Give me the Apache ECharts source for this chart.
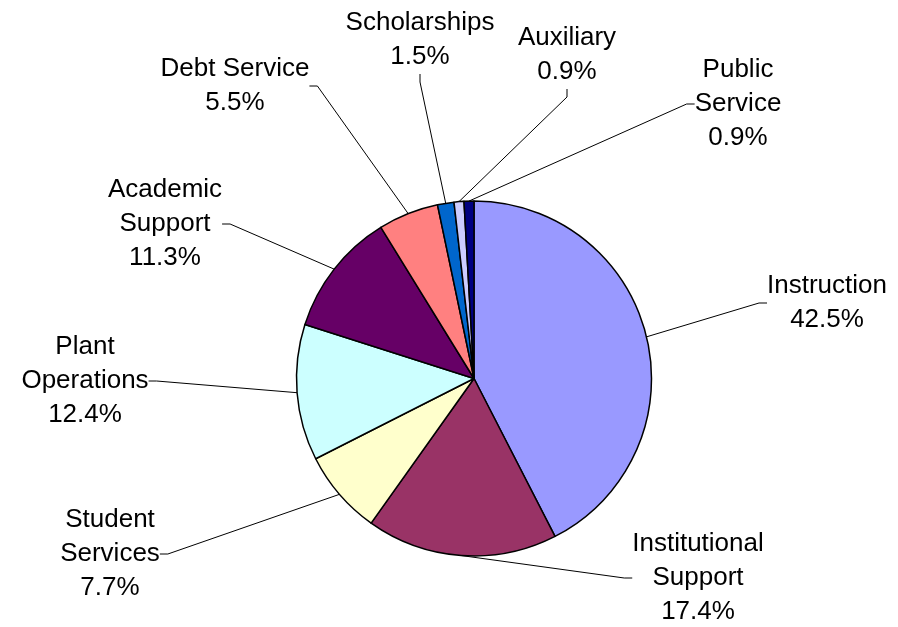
<!DOCTYPE html>
<html>
<head>
<meta charset="utf-8">
<script src="https://cdn.jsdelivr.net/npm/echarts@6/dist/echarts.min.js"></script>
<style>html,body{margin:0;padding:0;background:#fff}#c{width:898px;height:627px}</style>
</head>
<body>
<div id="c"></div>
<script>
var categories = ['Instruction', 'Institutional\nSupport', 'Student\nServices', 'Plant\nOperations', 'Academic\nSupport', 'Debt Service', 'Scholarships', 'Auxiliary', 'Public\nService'];
var values = [42.5, 17.4, 7.7, 12.4, 11.3, 5.5, 1.5, 0.9, 0.9];
var colors = ['#9999FF', '#993366', '#FFFFCC', '#CCFFFF', '#660066', '#FF8080', '#0066CC', '#CCCCFF', '#000080'];
// label centre positions (layout only)
var labelPos = [[827, 303], [698, 578], [110, 554], [85, 381], [165, 224], [235, 86], [420, 40], [567, 55], [738, 104]];

var chart = echarts.init(document.getElementById('c'));
chart.setOption({
  animation: false,
  backgroundColor: '#fff',
  series: [{
    type: 'pie',
    center: [474, 378.5],
    radius: 177.5,
    startAngle: 90,
    clockwise: true,
    data: categories.map(function (c, i) {
      return { name: c, value: values[i], itemStyle: { color: colors[i] } };
    }),
    itemStyle: { borderColor: '#000', borderWidth: 1.5 },
    label: {
      show: true,
      formatter: function (p) { return p.name + '\n' + p.value.toFixed(1) + '%'; },
      fontFamily: 'Liberation Sans, Arial, sans-serif',
      fontSize: 26,
      lineHeight: 34,
      color: '#000',
      align: 'center'
    },
    labelLine: { show: true, length: 20, length2: 8, lineStyle: { color: '#000', width: 1 } },
    labelLayout: function (p) {
      var pos = labelPos[p.dataIndex];
      return { x: pos[0], y: pos[1], align: 'center', verticalAlign: 'middle' };
    },
    emphasis: { disabled: true }
  }]
});
</script>
</body>
</html>
